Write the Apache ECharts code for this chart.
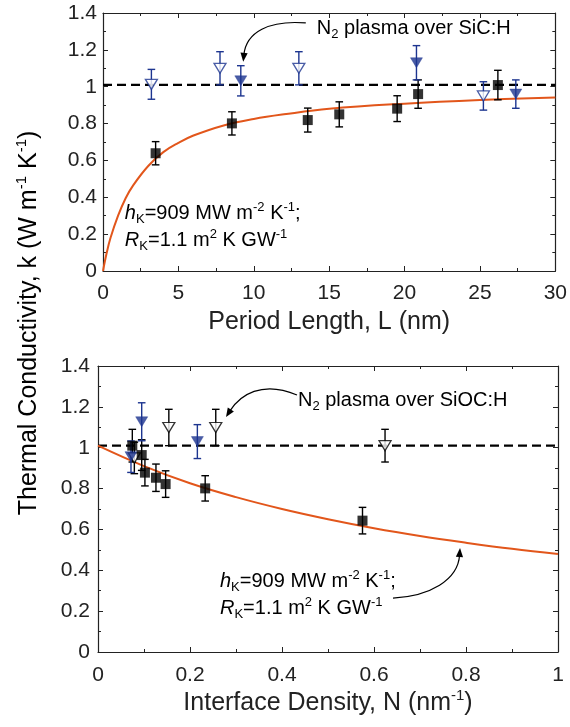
<!DOCTYPE html>
<html><head><meta charset="utf-8">
<script src="https://cdn.jsdelivr.net/npm/echarts@6/dist/echarts.min.js"></script>
<style>html,body{margin:0;padding:0;background:#fff}#c{width:570px;height:727px}</style>
</head><body><div id="c"></div>
<script>
// ---------- data ----------
const topXTicks = [0, 5, 10, 15, 20, 25, 30];
const botXTicks = [0, 0.2, 0.4, 0.6, 0.8, 1];
const yTicks = [0, 0.2, 0.4, 0.6, 0.8, 1, 1.2, 1.4];

// top panel: period length L (nm)
const sqL = [3.49, 8.55, 13.58, 15.67, 19.51, 20.9, 26.19];
const sqLk = [0.639, 0.801, 0.819, 0.850, 0.881, 0.960, 1.009];
const sqLerr = [0.063, 0.063, 0.065, 0.068, 0.070, 0.077, 0.080];
const openL = [3.21, 7.76, 12.99, 25.23];
const openLk = [1.013, 1.10, 1.10, 0.95];
const openLerr = [0.081, 0.09, 0.09, 0.077];
const fillL = [9.14, 20.79, 27.38];
const fillLk = [1.032, 1.13, 0.96];
const fillLerr = [0.082, 0.093, 0.077];
const fitL = [0, 0.25, 0.5, 1, 1.5, 2, 3, 4, 5, 6, 8, 10, 12, 15, 20, 25, 30];
const fitLk = [0, 0.10, 0.18, 0.30, 0.395, 0.465, 0.57, 0.645, 0.695, 0.735, 0.79, 0.825, 0.85, 0.88, 0.908, 0.928, 0.942];
const bulkL = [0, 30];
const bulkLk = [1.01, 1.01];

// bottom panel: interface density N (1/nm)
const sqN = [0.0746, 0.095, 0.102, 0.126, 0.147, 0.233, 0.575];
const sqNk = [1.01, 0.964, 0.878, 0.853, 0.822, 0.801, 0.643];
const sqNerr = [0.08, 0.075, 0.065, 0.067, 0.065, 0.062, 0.065];
const openN = [0.079, 0.154, 0.256, 0.624];
const openNk = [0.95, 1.099, 1.099, 1.01];
const openNerr = [0.077, 0.089, 0.089, 0.08];
const fillN = [0.0717, 0.095, 0.216];
const fillNk = [0.956, 1.127, 1.03];
const fillNerr = [0.077, 0.093, 0.083];
const fitN = [0, 0.1, 0.2, 0.3, 0.4, 0.5, 0.6, 0.7, 0.8, 0.9, 1.0];
const fitNk = [1.01, 0.91, 0.826, 0.758, 0.70, 0.65, 0.606, 0.568, 0.535, 0.505, 0.48];
const bulkN = [0, 1];
const bulkNk = [1.01, 1.01];

// ---------- styles ----------
const FONT = '"Liberation Sans", Arial, Helvetica, sans-serif';
const INK = '#222222';
const BLUE = '#1d3590';
const ORANGE = '#e2561b';

const zip = (a, b) => a.map((v, i) => [v, b[i]]);
const errData = (x, y, e) => x.map((v, i) => [v, y[i] - e[i], y[i] + e[i]]);
const DOWN_TRI = 'path://M0,0L12,0L6,10Z';

function errSeries(data, color, xi, yi) {
  return {
    type: 'custom', xAxisIndex: xi, yAxisIndex: yi, z: 3, silent: true,
    encode: { x: 0, y: [1, 2] },
    data: data,
    renderItem: function (params, api) {
      const x = api.value(0), lo = api.value(1), hi = api.value(2);
      const p1 = api.coord([x, lo]), p2 = api.coord([x, hi]);
      const c = 3.8;
      const st = { stroke: color, lineWidth: 1.4 };
      return { type: 'group', children: [
        { type: 'line', shape: { x1: p1[0], y1: p1[1], x2: p2[0], y2: p2[1] }, style: st },
        { type: 'line', shape: { x1: p1[0] - c, y1: p1[1], x2: p1[0] + c, y2: p1[1] }, style: st },
        { type: 'line', shape: { x1: p2[0] - c, y1: p2[1], x2: p2[0] + c, y2: p2[1] }, style: st }
      ]};
    }
  };
}

const titleRich = {
  b: { fontSize: 25, fontFamily: FONT, color: INK, lineHeight: 30 },
  sup: { fontSize: 15, fontFamily: FONT, color: INK, verticalAlign: 'top', lineHeight: 15 }
};

function xAxes(grid, ticks, name, nameGap, margin) {
  const base = {
    gridIndex: grid, type: 'value', min: ticks[0], max: ticks[ticks.length - 1],
    interval: ticks[1] - ticks[0],
    axisLine: { show: true, onZero: false, lineStyle: { color: INK, width: 1.2 } },
    axisTick: { show: true, inside: true, length: 5, lineStyle: { color: INK } },
    minorTick: { show: true, splitNumber: 2, length: 3, lineStyle: { color: INK } },
    splitLine: { show: false }, minorSplitLine: { show: false }
  };
  return [
    Object.assign({}, base, {
      position: 'bottom',
      axisLabel: { fontSize: 21, fontFamily: FONT, color: INK, margin: margin },
      name: name, nameLocation: 'middle', nameGap: nameGap,
      nameTextStyle: { fontFamily: FONT, color: INK, fontSize: 25, verticalAlign: 'top', rich: titleRich }
    }),
    Object.assign({}, base, { position: 'top', axisLabel: { show: false } })
  ];
}
function yAxes(grid, ticks, margin) {
  const base = {
    gridIndex: grid, type: 'value', min: ticks[0], max: ticks[ticks.length - 1],
    interval: ticks[1] - ticks[0],
    axisLine: { show: true, onZero: false, lineStyle: { color: INK, width: 1.2 } },
    axisTick: { show: true, inside: true, length: 5, lineStyle: { color: INK } },
    minorTick: { show: true, splitNumber: 2, length: 3, lineStyle: { color: INK } },
    splitLine: { show: false }, minorSplitLine: { show: false }
  };
  return [
    Object.assign({}, base, { position: 'left',
      axisLabel: { fontSize: 21, fontFamily: FONT, color: INK, margin: margin } }),
    Object.assign({}, base, { position: 'right', axisLabel: { show: false } })
  ];
}

function panelSeries(xi, yi, d) {
  return [
    { type: 'line', xAxisIndex: xi, yAxisIndex: yi, data: d.bulk, symbol: 'none', z: 2, silent: true,
      lineStyle: { color: '#000', width: 2.4, type: [9, 5] } },
    { type: 'line', xAxisIndex: xi, yAxisIndex: yi, data: d.fit, symbol: 'none', smooth: 0.4, z: 2, silent: true,
      lineStyle: { color: ORANGE, width: 2 } },
    errSeries(d.sqErr, '#000', xi, yi),
    errSeries(d.openErr, d.openColor, xi, yi),
    errSeries(d.fillErr, BLUE, xi, yi),
    { type: 'scatter', xAxisIndex: xi, yAxisIndex: yi, data: d.open, symbol: DOWN_TRI, symbolSize: [12, 10], z: 4,
      itemStyle: { color: '#fff', borderColor: d.openColor, borderWidth: 1.3 } },
    { type: 'scatter', xAxisIndex: xi, yAxisIndex: yi, data: d.fill, symbol: DOWN_TRI, symbolSize: [12, 10], z: 5,
      itemStyle: { color: BLUE, borderColor: BLUE, borderWidth: 0.5 } },
    { type: 'scatter', xAxisIndex: xi, yAxisIndex: yi, data: d.sq, symbol: 'rect', symbolSize: 10, z: 6,
      itemStyle: { color: '#000' } }
  ];
}

const option = {
  animation: false,
  backgroundColor: '#fff',
  grid: [
    { left: 103, top: 13, width: 455, height: 258 },
    { left: 98, top: 366, width: 460, height: 286 }
  ],
  xAxis: [].concat(
    xAxes(0, topXTicks, '{b|Period Length, L (nm)}', 36, 12),
    xAxes(1, botXTicks, '{b|Interface Density, N (nm}{sup|-1}{b|)}', 36, 13)
  ),
  yAxis: [].concat(yAxes(0, yTicks, 6), yAxes(1, yTicks, 8)),
  series: [].concat(
    panelSeries(0, 0, {
      bulk: zip(bulkL, bulkLk), fit: zip(fitL, fitLk),
      sq: zip(sqL, sqLk), sqErr: errData(sqL, sqLk, sqLerr),
      open: zip(openL, openLk), openErr: errData(openL, openLk, openLerr), openColor: BLUE,
      fill: zip(fillL, fillLk), fillErr: errData(fillL, fillLk, fillLerr)
    }),
    panelSeries(2, 2, {
      bulk: zip(bulkN, bulkNk), fit: zip(fitN, fitNk),
      sq: zip(sqN, sqNk), sqErr: errData(sqN, sqNk, sqNerr),
      open: zip(openN, openNk), openErr: errData(openN, openNk, openNerr), openColor: '#000',
      fill: zip(fillN, fillNk), fillErr: errData(fillN, fillNk, fillNerr)
    })
  )
};

const chart = echarts.init(document.getElementById('c'), null, { renderer: 'canvas' });
chart.setOption(option);

// ---------- annotations (anchored in data coordinates) ----------
function P(panel, p) {
  const idx = panel === 0 ? 0 : 2;
  return chart.convertToPixel({ xAxisIndex: idx, yAxisIndex: idx }, p);
}
const annRich = {
  b: { fontSize: 20, fontFamily: FONT, color: INK, lineHeight: 25 },
  i: { fontSize: 20, fontFamily: FONT, color: INK, fontStyle: 'italic', lineHeight: 25 },
  sub: { fontSize: 13, fontFamily: FONT, color: INK, verticalAlign: 'bottom', lineHeight: 13 },
  sup: { fontSize: 13, fontFamily: FONT, color: INK, verticalAlign: 'top', lineHeight: 13 }
};
function textEl(panel, at, txt) {
  const p = P(panel, at);
  return { type: 'text', x: p[0], y: p[1], z: 10, silent: true,
    style: { text: txt, rich: annRich, align: 'left', verticalAlign: 'middle' } };
}
function arrowEls(panel, pts) {
  const q = pts.map(p => P(panel, p));
  const [a, b, c, d] = q;
  const dx = d[0] - c[0], dy = d[1] - c[1];
  const len = Math.hypot(dx, dy) || 1;
  const ux = dx / len, uy = dy / len;
  const L = 9, W = 3.6;
  const bx = d[0] - ux * L, by = d[1] - uy * L;
  return [
    { type: 'bezierCurve', z: 10, silent: true,
      shape: { x1: a[0], y1: a[1], cpx1: b[0], cpy1: b[1], cpx2: c[0], cpy2: c[1], x2: bx + ux * 2, y2: by + uy * 2 },
      style: { stroke: '#000', lineWidth: 1.2, fill: null } },
    { type: 'polygon', z: 10, silent: true,
      shape: { points: [[d[0], d[1]], [bx - uy * W, by + ux * W], [bx + uy * W, by - ux * W]] },
      style: { fill: '#000' } }
  ];
}
const graphics = [].concat(
  [textEl(0, [14.18, 1.3186], '{b|N}{sub|2}{b| plasma over SiC:H}'),
   textEl(0, [1.45, 0.313], '{i|h}{sub|K}{b|=909 MW m}{sup|-2}{b| K}{sup|-1}{b|;}'),
   textEl(0, [1.45, 0.168], '{i|R}{sub|K}{b|=1.1 m}{sup|2}{b| K GW}{sup|-1}')],
  arrowEls(0, [[13.45, 1.346], [11.01, 1.362], [9.49, 1.297], [9.30, 1.135]]),
  [textEl(1, [0.4348, 1.231], '{b|N}{sub|2}{b| plasma over SiOC:H}'),
   textEl(1, [0.2652, 0.344], '{i|h}{sub|K}{b|=909 MW m}{sup|-2}{b| K}{sup|-1}{b|;}'),
   textEl(1, [0.2652, 0.214], '{i|R}{sub|K}{b|=1.1 m}{sup|2}{b| K GW}{sup|-1}')],
  arrowEls(1, [[0.4326, 1.258], [0.3565, 1.331], [0.3087, 1.258], [0.2783, 1.150]]),
  arrowEls(1, [[0.6413, 0.264], [0.7217, 0.274], [0.7826, 0.352], [0.7870, 0.509]]),
  [{ type: 'text', x: 29, y: 323, rotation: Math.PI / 2, z: 10, silent: true,
     style: { text: '{b|Thermal Conductivity, k (W m}{sup|-1}{b| K}{sup|-1}{b|)}', align: 'center', verticalAlign: 'middle',
       rich: titleRich } }]
);
chart.setOption({ graphic: graphics });
</script>
</body></html>
